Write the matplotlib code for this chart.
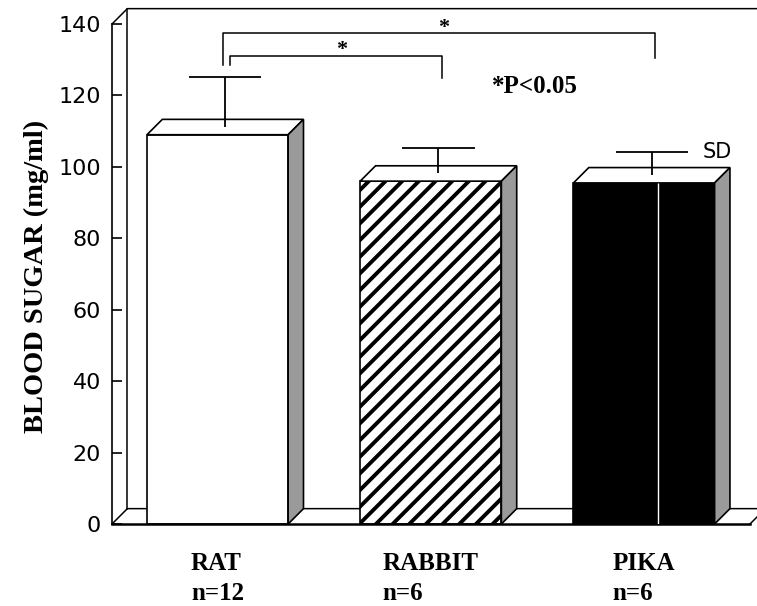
import matplotlib
matplotlib.use('Agg')
import matplotlib.pyplot as plt
from matplotlib.patches import Polygon

# data
animals = ['RAT', 'RABBIT', 'PIKA']
n_values = [12, 6, 6]
means = [109, 96, 95.5]
sds = [14, 7, 6.5]
yticks = [0, 20, 40, 60, 80, 100, 120, 140]

plt.rcParams['hatch.linewidth'] = 2.8
serif = 'Liberation Serif'

fig = plt.figure(figsize=(7.57, 6.06), dpi=100)
ax = fig.add_axes([112/757, 82/606, 638/757, 500/606])
ax.set_xlim(-0.495, 2.497)
ax.set_ylim(0, 140)

# fake 3d depth (data units)
dx, dy = 0.072, 4.3
w = 0.662
x0, x1 = ax.get_xlim()
frame = dict(color='black', lw=1.1, clip_on=False, zorder=1)

# back wall and floor
ax.plot([x0, x0 + dx, 3.0], [140, 140 + dy, 140 + dy], **frame)
ax.plot([x0 + dx, x0 + dx], [dy, 140 + dy], **frame)
ax.plot([x0, x0 + dx, 3.0], [0, dy, dy], **frame)
ax.plot([x1, x1 + dx], [0, dy], **frame)

for s in ['top', 'right']:
    ax.spines[s].set_visible(False)
ax.spines['left'].set_linewidth(1.2)
ax.spines['bottom'].set_linewidth(1.8)

# front faces
xs = list(range(len(animals)))
bars = ax.bar(xs, means, width=w, color=['white', 'white', 'black'],
              edgecolor='black', lw=1.2, zorder=2)
bars[1].set_hatch('//')

# top and side faces
for i, m in enumerate(means):
    left, right = i - w/2, i + w/2
    top = Polygon([(left, m), (left + dx, m + dy), (right + dx, m + dy), (right, m)],
                  facecolor='white', edgecolor='black', lw=1.2, zorder=2)
    side = Polygon([(right, 0), (right + dx, dy), (right + dx, m + dy), (right, m)],
                   facecolor='#9a9a9a', edgecolor='black', lw=1.2, zorder=2)
    ax.add_patch(top)
    ax.add_patch(side)

# thin white streak on the pika bar
ax.vlines(2 + 0.066, 0, means[2], color='white', lw=1, zorder=3)

# SD bars (drawn from the middle of the top face)
cw = 0.338
for i, (m, sd) in enumerate(zip(means, sds)):
    xe, ye = i + dx/2, m + dy/2
    ax.vlines(xe, ye, ye + sd, color='black', lw=1.3, zorder=4)
    ax.hlines(ye + sd, xe - cw/2, xe + cw/2, color='black', lw=1.3, zorder=4)

ax.text(2.277, 104.2, 'SD', fontsize=15, ha='left', va='center')

# significance brackets
ax.plot([0.026, 0.026, 2.052, 2.052], [128.5, 137.5, 137.5, 130.5],
        color='black', lw=1.1, clip_on=False)
ax.plot([0.059, 0.059, 1.053, 1.053], [128.5, 131, 131, 124.9],
        color='black', lw=1.1, clip_on=False)
ax.text(1.058, 137.6, '*', fontsize=16, fontweight='bold', family=serif,
        ha='center', va='baseline')
ax.text(0.580, 131.2, '*', fontsize=16, fontweight='bold', family=serif,
        ha='center', va='baseline')
ax.text(1.2875, 122.4, '*P<0.05', fontsize=18, fontweight='bold', family=serif,
        ha='left', va='center')

# axes labels
ax.set_yticks(yticks)
ax.tick_params(axis='y', direction='in', length=7, width=1.2, labelsize=16, pad=8)
ax.set_xticks(xs, labels=[f'{a}\nn={n}' for a, n in zip(animals, n_values)])
ax.tick_params(axis='x', length=0, pad=20)
for lbl in ax.get_xticklabels():
    lbl.set_fontfamily(serif)
    lbl.set_fontweight('bold')
    lbl.set_fontsize(18)
    lbl.set_multialignment('left')
    lbl.set_linespacing(1.4)

ax.set_ylabel('BLOOD SUGAR (mg/ml)', fontsize=20.5, fontweight='bold', family=serif,
              va='center')
ax.yaxis.set_label_coords(-0.119, 0.496)

fig.savefig('out.png', dpi=100)
